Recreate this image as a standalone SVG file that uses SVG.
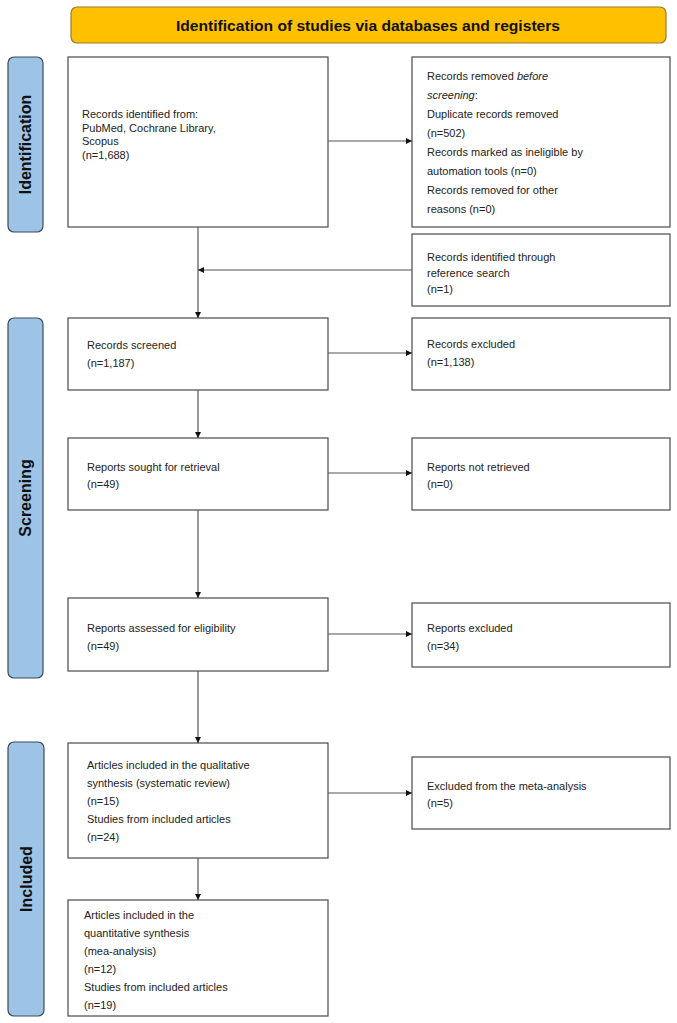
<svg xmlns="http://www.w3.org/2000/svg" width="677" height="1023" viewBox="0 0 677 1023">
<style>
.box{fill:#fff;stroke:#4a4a4a;stroke-width:1.2}
.side{fill:#9dc3e6;stroke:#3b4b5c;stroke-width:1.2}
.t{font-family:"Liberation Sans",Arial,Helvetica,sans-serif;font-size:11px;fill:#222}
.sl{font-family:"Liberation Sans",Arial,Helvetica,sans-serif;font-size:16px;font-weight:bold;fill:#111}
.c{stroke:#555;stroke-width:1.2;fill:none;marker-end:url(#ah)}
</style>
<defs>
<marker id="ah" viewBox="0 0 8 8" refX="8" refY="4" markerWidth="6" markerHeight="6" markerUnits="userSpaceOnUse" orient="auto">
<path d="M0,0 L8,4 L0,8 z" fill="#111"/>
</marker>
</defs>
<rect width="677" height="1023" fill="#fff"/>

<g id="title">
<rect x="71" y="7" width="595" height="36" rx="6" fill="#ffc000" stroke="#9a7b2a" stroke-width="1.2"/>
<text x="368" y="30.5" text-anchor="middle" textLength="384" lengthAdjust="spacingAndGlyphs" style="font-family:'Liberation Sans',Arial,sans-serif;font-size:15px;font-weight:bold;fill:#111">Identification of studies via databases and registers</text>
</g>

<g id="side-identification">
<rect class="side" x="8" y="57" width="35" height="175" rx="6"/>
<text class="sl" transform="translate(25.5,144.5) rotate(-90)" text-anchor="middle" dominant-baseline="central">Identification</text>
</g>
<g id="side-screening">
<rect class="side" x="8" y="318" width="35" height="360" rx="6"/>
<text class="sl" transform="translate(25.5,498) rotate(-90)" text-anchor="middle" dominant-baseline="central">Screening</text>
</g>
<g id="side-included">
<rect class="side" x="8" y="742" width="36" height="274" rx="6"/>
<text class="sl" transform="translate(26,879) rotate(-90)" text-anchor="middle" dominant-baseline="central">Included</text>
</g>

<g id="records-identified">
<rect class="box" x="68" y="57" width="260" height="170"/>
<text class="t" x="82" y="118">Records identified from:</text>
<text class="t" x="82" y="131.5">PubMed, Cochrane Library,</text>
<text class="t" x="82" y="145">Scopus</text>
<text class="t" x="82" y="158.5">(n=1,688)</text>
</g>

<g id="records-removed">
<rect class="box" x="412" y="57" width="258" height="170"/>
<text class="t" x="427" y="80">Records removed <tspan font-style="italic">before</tspan></text>
<text class="t" x="427" y="99"><tspan font-style="italic">screening</tspan>:</text>
<text class="t" x="427" y="118">Duplicate records removed</text>
<text class="t" x="427" y="137">(n=502)</text>
<text class="t" x="427" y="156">Records marked as ineligible by</text>
<text class="t" x="427" y="175">automation tools (n=0)</text>
<text class="t" x="427" y="194">Records removed for other</text>
<text class="t" x="427" y="213">reasons (n=0)</text>
</g>

<g id="reference-search">
<rect class="box" x="412" y="234" width="258" height="72"/>
<text class="t" x="427" y="261">Records identified through</text>
<text class="t" x="427" y="277">reference search</text>
<text class="t" x="427" y="293">(n=1)</text>
</g>

<g id="records-screened">
<rect class="box" x="68" y="318" width="260" height="72"/>
<text class="t" x="87" y="349">Records screened</text>
<text class="t" x="87" y="367">(n=1,187)</text>
</g>

<g id="records-excluded">
<rect class="box" x="412" y="318" width="258" height="72"/>
<text class="t" x="427" y="348">Records excluded</text>
<text class="t" x="427" y="366">(n=1,138)</text>
</g>

<g id="reports-sought">
<rect class="box" x="68" y="438" width="260" height="72"/>
<text class="t" x="87" y="471">Reports sought for retrieval</text>
<text class="t" x="87" y="488">(n=49)</text>
</g>

<g id="reports-not-retrieved">
<rect class="box" x="412" y="438" width="258" height="72"/>
<text class="t" x="427" y="471">Reports not retrieved</text>
<text class="t" x="427" y="488">(n=0)</text>
</g>

<g id="reports-assessed">
<rect class="box" x="68" y="598" width="260" height="73"/>
<text class="t" x="87" y="632">Reports assessed for eligibility</text>
<text class="t" x="87" y="650">(n=49)</text>
</g>

<g id="reports-excluded">
<rect class="box" x="412" y="603" width="258" height="64"/>
<text class="t" x="427" y="632">Reports excluded</text>
<text class="t" x="427" y="650">(n=34)</text>
</g>

<g id="qualitative">
<rect class="box" x="68" y="743" width="260" height="115"/>
<text class="t" x="87" y="769">Articles included in the qualitative</text>
<text class="t" x="87" y="787">synthesis (systematic review)</text>
<text class="t" x="87" y="805">(n=15)</text>
<text class="t" x="87" y="823">Studies from included articles</text>
<text class="t" x="87" y="841">(n=24)</text>
</g>

<g id="excluded-meta">
<rect class="box" x="412" y="757" width="258" height="72"/>
<text class="t" x="427" y="790">Excluded from the meta-analysis</text>
<text class="t" x="427" y="807">(n=5)</text>
</g>

<g id="quantitative">
<rect class="box" x="68" y="900" width="260" height="116"/>
<text class="t" x="84" y="919">Articles included in the</text>
<text class="t" x="84" y="937">quantitative synthesis</text>
<text class="t" x="84" y="955">(mea-analysis)</text>
<text class="t" x="84" y="973">(n=12)</text>
<text class="t" x="84" y="991">Studies from included articles</text>
<text class="t" x="84" y="1009">(n=19)</text>
</g>

<g id="connectors">
<line class="c" x1="328" y1="141" x2="412" y2="141"/>
<line class="c" x1="198" y1="227" x2="198" y2="318"/>
<line class="c" x1="412" y1="270" x2="198" y2="270"/>
<line class="c" x1="328" y1="353" x2="412" y2="353"/>
<line class="c" x1="198" y1="390" x2="198" y2="438"/>
<line class="c" x1="328" y1="473" x2="412" y2="473"/>
<line class="c" x1="198" y1="510" x2="198" y2="598"/>
<line class="c" x1="328" y1="634" x2="412" y2="634"/>
<line class="c" x1="198" y1="671" x2="198" y2="743"/>
<line class="c" x1="328" y1="793" x2="412" y2="793"/>
<line class="c" x1="198" y1="858" x2="198" y2="900"/>
</g>
</svg>
